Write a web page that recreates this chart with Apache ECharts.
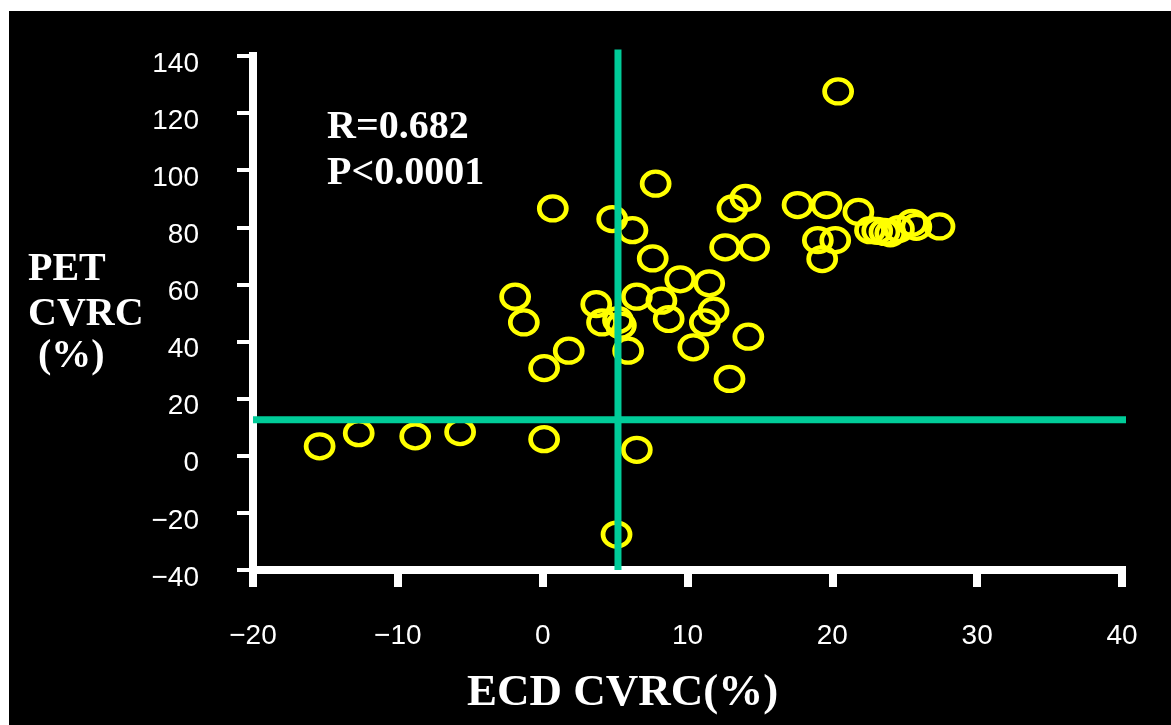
<!DOCTYPE html>
<html>
<head>
<meta charset="utf-8">
<script src="https://cdn.jsdelivr.net/npm/echarts@6/dist/echarts.min.js"></script>
<style>
  html, body { margin: 0; padding: 0; background: #fff; }
  #chart { position: absolute; left: 9px; top: 11px; width: 1162px; height: 714px; background: #000; }
</style>
</head>
<body>
<div id="chart"></div>
<script>
// ECD CVRC (%) - x
const ecdValues = [
  -15.4, -12.7, -8.8, -5.7, 0.1, 6.5, 5.1,
  0.7, 4.8, 6.2, 7.8, 7.6,
  -1.9, -1.3, 1.8, 0.1, 3.7, 4.1, 5.2, 5.4, 5.9, 6.5,
  13.1, 14.0, 17.6, 19.6, 21.8, 20.4,
  12.6, 14.6, 9.5, 11.5, 8.2, 8.7, 11.8, 11.2, 14.2, 10.4, 12.9,
  19.0, 20.2, 19.3,
  22.6, 23.1, 23.6, 24.0, 24.6, 25.5, 25.8, 27.4
];
// PET CVRC (%) - y
const petValues = [
  3.3, 7.9, 6.8, 8.3, 5.8, 2.1, -27.6,
  86.6, 82.9, 79.0, 95.3, 69.1,
  55.7, 46.7, 36.8, 30.7, 53.1, 46.7, 47.5, 45.6, 36.8, 55.7,
  86.6, 90.3, 87.8, 87.8, 85.4, 127.6,
  73.0, 73.0, 61.8, 60.4, 54.3, 47.9, 50.8, 46.7, 41.7, 38.0, 26.9,
  75.5, 75.5, 68.9,
  79.0, 78.8, 78.4, 77.9, 79.4, 81.6, 80.2, 80.3
];
// 分界线 (cut-off lines)
const cutX = 5.2;
const cutY = 12.6;
const cutXRange = [-20, 41.8];
const cutYRange = [-40, 142.3];

const xTicks = { min: -20, max: 40, interval: 10 };
const yTicks = { min: -40, max: 140, interval: 20 };

const statLines = ["R=0.682", "P<0.0001"];

const green = "#00CC99";
const yellow = "#FFFF00";
const serif = "'Liberation Serif', 'DejaVu Serif', serif";
const sans = "'Liberation Sans', Arial, sans-serif";
const minus = (v) => String(v).replace("-", "\u2212");

const myChart = echarts.init(document.getElementById("chart"));

const points = ecdValues.map((x, i) => [x, petValues[i]]);

const axisLineStyle = { color: "#fff", width: 8, cap: "square" };

const option = {
  backgroundColor: "#000",
  animation: false,
  grid: { left: 244, right: 49, top: 45, bottom: 155 },
  xAxis: {
    type: "value",
    min: xTicks.min,
    max: xTicks.max,
    interval: xTicks.interval,
    splitLine: { show: false },
    axisLine: { show: true, onZero: false, lineStyle: axisLineStyle },
    axisTick: { show: true, length: 17, lineStyle: { color: "#fff", width: 8 } },
    axisLabel: {
      margin: 52,
      color: "#fff",
      fontSize: 28,
      fontFamily: sans,
      formatter: minus,
    },
  },
  yAxis: {
    type: "value",
    min: yTicks.min,
    max: yTicks.max,
    interval: yTicks.interval,
    splitLine: { show: false },
    axisLine: { show: true, onZero: false, lineStyle: axisLineStyle },
    axisTick: { show: true, length: 16, lineStyle: { color: "#fff", width: 4 } },
    axisLabel: {
      margin: 54,
      verticalAlign: "top",
      lineHeight: 16,
      color: "#fff",
      fontSize: 28,
      fontFamily: sans,
      formatter: minus,
    },
  },
  graphic: [
    {
      type: "text",
      left: 318,
      top: 94,
      style: {
        text: statLines.join("\n"),
        fill: "#fff",
        font: "bold 40px " + serif,
        lineHeight: 46,
      },
    },
    {
      type: "text",
      left: 19,
      top: 236,
      style: { text: "PET\nCVRC", fill: "#fff", font: "bold 40px " + serif, lineHeight: 45 },
    },
    {
      type: "text",
      left: 29,
      top: 326,
      style: { text: "(%)", fill: "#fff", font: "bold 40px " + serif },
    },
    {
      type: "text",
      left: 458,
      top: 660,
      style: { text: "ECD CVRC(%)", fill: "#fff", font: "bold 45px " + serif },
    },
  ],
  series: [
    {
      type: "scatter",
      data: points,
      symbol: "circle",
      symbolSize: [27, 24],
      itemStyle: { color: "rgba(0,0,0,0)", borderColor: yellow, borderWidth: 4.5, opacity: 1 },
      z: 2,
    },
    {
      // 横线
      type: "line",
      data: [[cutXRange[0], cutY], [cutXRange[1], cutY]],
      symbol: "none",
      clip: false,
      lineStyle: { color: green, width: 7 },
      z: 5,
    },
    {
      // 竖线
      type: "line",
      data: [[cutX, cutYRange[0]], [cutX, cutYRange[1]]],
      symbol: "none",
      clip: false,
      lineStyle: { color: green, width: 7 },
      z: 5,
    },
  ],
};

myChart.setOption(option);
</script>
</body>
</html>
